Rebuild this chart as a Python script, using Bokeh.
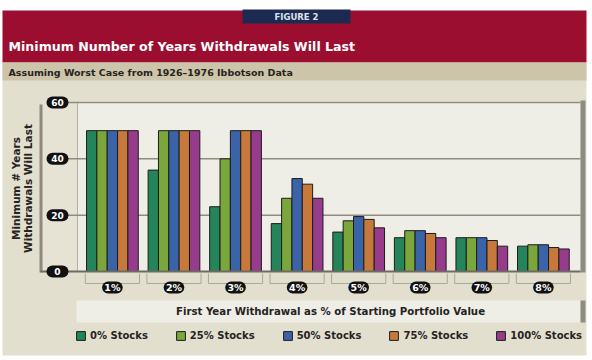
import math
from bokeh.plotting import figure
from bokeh.models import Range1d, Legend, LegendItem
from bokeh.core.properties import value
from bokeh.embed import file_html
from bokeh.resources import INLINE

# ---------------- data ----------------
categories = ["1%", "2%", "3%", "4%", "5%", "6%", "7%", "8%"]
series_names = ["0% Stocks", "25% Stocks", "50% Stocks", "75% Stocks", "100% Stocks"]
stocks_0 = [50, 36, 23, 17, 14, 12, 12, 9]
stocks_25 = [50, 50, 40, 26, 18, 14.5, 12, 9.5]
stocks_50 = [50, 50, 50, 33, 19.5, 14.5, 12, 9.5]
stocks_75 = [50, 50, 50, 31, 18.5, 13.5, 11, 8.5]
stocks_100 = [50, 50, 50, 26, 15.5, 12, 9, 8]
y_ticks = [0, 20, 40, 60]

title_text = "Minimum Number of Years Withdrawals Will Last"
subtitle_text = "Assuming Worst Case from 1926\u20131976 Ibbotson Data"
figure_tag = "FIGURE 2"
y_label_lines = ["Minimum # Years", "Withdrawals Will Last"]
x_label_text = "First Year Withdrawal as % of Starting Portfolio Value"

# ---------------- styles / layout ----------------
series_values = [stocks_0, stocks_25, stocks_50, stocks_75, stocks_100]
series_colors = ["#24845a", "#7aa63c", "#3b63a7", "#c6793b", "#973b8d"]

W, H = 592, 360
OX, OY = 0, 0


def px(x):
    return x - OX


def py(y):
    return y - OY


FONT = value("DejaVu Sans")
DARK = "#26231f"

# value scale: 0 at page y 271, 60 at page y 102
Y0_PAGE, Y60_PAGE = 271, 102
unit_y = (Y0_PAGE - Y60_PAGE) / 60.0
ys = -(H - py(Y0_PAGE)) / unit_y
ye = 60 + py(Y60_PAGE) / unit_y

# category scale: first group centre at page x 111.9, spacing 61.57 px
C0_PAGE, STEP = 111.9, 61.57
gs = -px(C0_PAGE) / STEP
ge = (W - px(C0_PAGE)) / STEP

p = figure(width=W, height=H, x_range=Range1d(0, W), y_range=Range1d(H, 0),
           min_border=0, toolbar_location=None, output_backend="svg",
           x_axis_location=None, y_axis_location=None,
           background_fill_color="white", border_fill_color="white",
           outline_line_color=None)
p.grid.visible = False
p.extra_x_ranges = {"grp": Range1d(gs, ge)}
p.extra_y_ranges = {"yrs": Range1d(ys, ye)}


def box(l, r, t, b, color):
    p.quad(left=[px(l)], right=[px(r)], top=[py(t)], bottom=[py(b)],
           fill_color=color, line_color=None)


# panel backgrounds
box(2, 586, 62, 355, "#e3dfce")
box(2, 586, 10, 62, "#9b0e30")
box(2, 586, 62, 80, "#cdc5a9")
box(242, 350, 9, 23, "#1c2a52")
# y-axis strip
box(42, 77, 101, 271, "#e7e3d4")
box(39, 42, 104, 272, "#8e8a7e")
# plot area
box(77, 580, 101, 271, "#efeee6")
p.segment(x0=[px(77)], x1=[px(77)], y0=[py(101)], y1=[py(271)], line_color="#b3afa3", line_width=1)
box(580, 585, 100, 272, "#8f8c83")
# x label box
box(76, 580, 300, 322, "#efeee6")
box(580, 585, 300, 322, "#8f8c83")

# grid lines
grid_vals = [t for t in y_ticks if t > 0]
p.segment(x0=[px(48)] * len(grid_vals), x1=[px(580)] * len(grid_vals),
          y0=grid_vals, y1=grid_vals, y_range_name="yrs",
          line_color="#8f8b80", line_width=1.5)

# bars
n = len(series_names)
bar_w = 0.168
renderers = []
for k, (vals, col) in enumerate(zip(series_values, series_colors)):
    off = (k - (n - 1) / 2.0) * bar_w
    xs = [i + off for i in range(len(categories))]
    r = p.vbar(x=xs, top=vals, bottom=0, width=bar_w, fill_color=col,
               line_color="#1c1c1c", line_width=1,
               x_range_name="grp", y_range_name="yrs")
    renderers.append(r)

# baseline
p.segment(x0=[px(40)], x1=[px(580)], y0=[0], y1=[0], y_range_name="yrs",
          line_color="#6f6b62", line_width=2)

# y tick pills
p.segment(x0=[px(52)] * len(y_ticks), x1=[px(62)] * len(y_ticks), y0=y_ticks, y1=y_ticks,
          y_range_name="yrs", line_color="#111111", line_width=12, line_cap="round")
p.text(x=[px(57)] * len(y_ticks), y=y_ticks, text=[str(t) for t in y_ticks],
       y_range_name="yrs", text_font=FONT, text_font_size=value("9px"),
       text_font_style="bold", text_color="white", text_align="center",
       text_baseline="middle")

# x brackets and pills
idx = list(range(len(categories)))
half = 0.44
p.segment(x0=[i - half for i in idx] + [i + half for i in idx] + [i - half for i in idx],
          x1=[i - half for i in idx] + [i + half for i in idx] + [i + half for i in idx],
          y0=[py(273)] * (2 * len(idx)) + [py(283)] * len(idx),
          y1=[py(283)] * (3 * len(idx)),
          x_range_name="grp", line_color="#aca79b", line_width=1)
p.segment(x0=[i - 0.07 for i in idx], x1=[i + 0.07 for i in idx],
          y0=[py(287)] * len(idx), y1=[py(287)] * len(idx),
          x_range_name="grp", line_color="#111111", line_width=12, line_cap="round")
p.text(x=idx, y=[py(287)] * len(idx), text=categories, x_range_name="grp",
       text_font=FONT, text_font_size=value("9.5px"), text_font_style="bold",
       text_color="white", text_align="center", text_baseline="middle")

# titles
p.text(x=[px(296)], y=[py(16)], text=[figure_tag], text_font=FONT,
       text_font_size=value("8.5px"), text_font_style="bold", text_color="#dde2ee",
       text_align="center", text_baseline="middle")
p.text(x=[px(8)], y=[py(46)], text=[title_text], text_font=FONT,
       text_font_size=value("12.6px"), text_font_style="bold", text_color="white",
       text_align="left", text_baseline="middle")
p.text(x=[px(8)], y=[py(71.5)], text=[subtitle_text], text_font=FONT,
       text_font_size=value("9.5px"), text_font_style="bold", text_color=DARK,
       text_align="left", text_baseline="middle")
p.text(x=[px(330)], y=[py(311)], text=[x_label_text], text_font=FONT,
       text_font_size=value("10.2px"), text_font_style="bold", text_color=DARK,
       text_align="center", text_baseline="middle")
p.text(x=[px(15), px(27)], y=[py(188), py(188)], text=y_label_lines, text_font=FONT,
       text_font_size=value("10.5px"), text_font_style="bold", text_color=DARK,
       text_align="center", text_baseline="middle", angle=math.pi / 2)

# legend
legend = Legend(items=[LegendItem(label=nm, renderers=[r]) for nm, r in zip(series_names, renderers)],
                orientation="horizontal", location=(px(75), H - py(341)),
                padding=0, margin=0, spacing=27, label_standoff=4,
                glyph_width=11, glyph_height=11, label_height=11,
                border_line_color=None, background_fill_alpha=0,
                label_text_font="DejaVu Sans", label_text_font_style="bold",
                label_text_font_size="10px", label_text_color=DARK)
p.add_layout(legend)

open("out.html", "w").write(file_html(p, INLINE))
